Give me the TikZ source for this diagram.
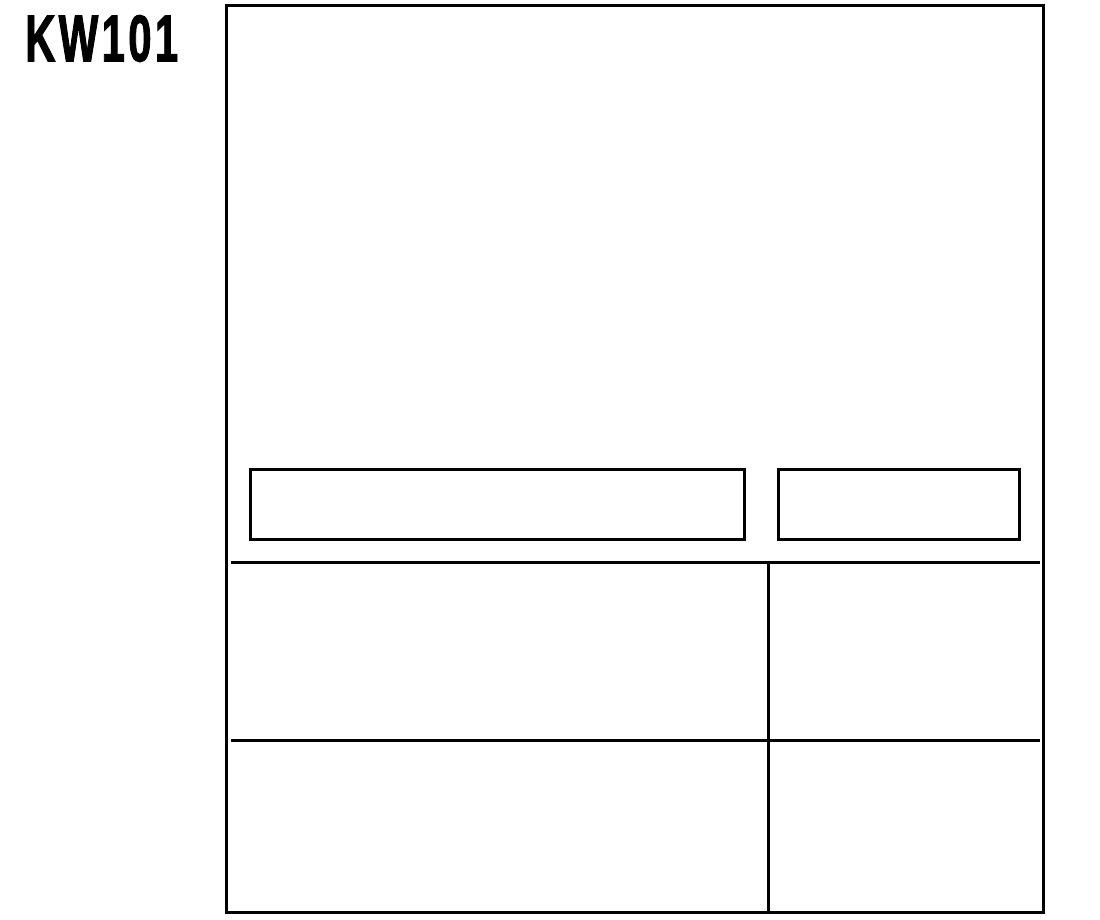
\documentclass[tikz,border=0pt]{standalone}
\usepackage{graphicx}
\usepackage{fontspec}
\setmainfont{Liberation Sans}
\newfontfamily\titlefont[LetterSpace=8,BoldFeatures={FakeBold=2,LetterSpace=8}]{Liberation Sans}
\begin{document}
\begin{tikzpicture}[x=1pt,y=-1pt,
  frame/.style={draw=black,line width=3pt},
  divider/.style={draw=black,line width=3pt},
  slot/.style={draw=black,line width=3pt}]
\useasboundingbox[fill=white] (0,0) rectangle (1100,920);
\node[anchor=north west,inner sep=0pt] (title) at (25,15) {\resizebox{153pt}{46pt}{\titlefont\bfseries KW101}};
\draw[frame] (226,6) rectangle (1043,912);
\draw[slot] (250,469) rectangle (744,539);
\draw[slot] (778,469) rectangle (1019,539);
\draw[divider] (231,562) -- (1040,562);
\draw[divider] (231,740) -- (1040,740);
\draw[divider] (768,562) -- (768,912);
\end{tikzpicture}
\end{document}
